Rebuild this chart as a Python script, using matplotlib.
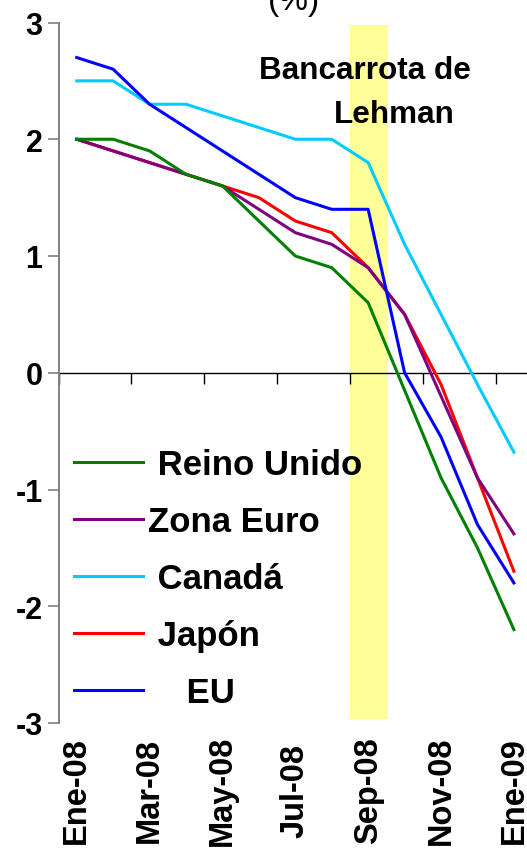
import matplotlib
matplotlib.use("Agg")
import matplotlib.pyplot as plt
from matplotlib.transforms import blended_transform_factory

# ---- data ----
months = ["Ene-08", "Feb-08", "Mar-08", "Abr-08", "May-08", "Jun-08", "Jul-08",
          "Ago-08", "Sep-08", "Oct-08", "Nov-08", "Dic-08", "Ene-09"]
tick_labels = ["Ene-08", "Mar-08", "May-08", "Jul-08", "Sep-08", "Nov-08", "Ene-09"]
reino_unido = [2.0, 2.0, 1.9, 1.7, 1.6, 1.3, 1.0, 0.9, 0.6, -0.15, -0.9, -1.5, -2.2]
zona_euro = [2.0, 1.9, 1.8, 1.7, 1.6, 1.4, 1.2, 1.1, 0.9, 0.5, -0.2, -0.9, -1.38]
canada = [2.5, 2.5, 2.3, 2.3, 2.2, 2.1, 2.0, 2.0, 1.8, 1.1, 0.5, -0.1, -0.68]
japon = [2.0, 1.9, 1.8, 1.7, 1.6, 1.5, 1.3, 1.2, 0.9, 0.5, -0.1, -0.9, -1.7]
eu = [2.7, 2.6, 2.3, 2.1, 1.9, 1.7, 1.5, 1.4, 1.4, 0.0, -0.55, -1.3, -1.8]
lehman_span = (7.5, 8.55)
yticks = [-3, -2, -1, 0, 1, 2, 3]

plt.rcParams['font.family'] = ['Liberation Sans', 'DejaVu Sans']

W, H = 527, 853
fig = plt.figure(figsize=(W / 100, H / 100), dpi=100)
ax = fig.add_axes([58.5 / W, (H - 724) / H, 1 - 58.5 / W, (724 - 23.5) / H])

x = list(range(len(months)))
ax.axvspan(lehman_span[0], lehman_span[1], ymin=0.006, ymax=0.996,
           color='#FFFF99', lw=0, zorder=1)

lw = 2.2
l_jp, = ax.plot(x, japon, color='#FF0000', lw=lw, zorder=3, label=' Japón')
l_ca, = ax.plot(x, canada, color='#00CCFF', lw=lw, zorder=3, label=' Canadá')
l_ze, = ax.plot(x, zona_euro, color='#800080', lw=lw, zorder=4, label='Zona Euro')
l_ru, = ax.plot(x, reino_unido, color='#008000', lw=lw, zorder=5, label=' Reino Unido')
l_eu, = ax.plot(x, eu, color='#0000FF', lw=lw, zorder=6, label='    EU')

ax.set_xlim(-0.5, 12.36)
ax.set_ylim(-3, 3)

for s in ['top', 'right']:
    ax.spines[s].set_visible(False)
ax.spines['left'].set_color('#808080')
ax.spines['left'].set_linewidth(1.4)
ax.spines['bottom'].set_position(('data', 0))
ax.spines['bottom'].set_color('black')
ax.spines['bottom'].set_linewidth(1.0)
ax.spines['bottom'].set_zorder(2)

ax.set_yticks(yticks)
ax.set_yticklabels([str(v) for v in yticks], fontsize=22, fontweight='bold')
ax.tick_params(axis='y', direction='out', length=8, width=1.2, color='#808080', pad=3.5)

ax.set_xticks([v - 0.5 for v in range(0, 13, 2)])
ax.tick_params(axis='x', direction='out', length=8, width=1.0, color='black',
               labelbottom=False)

trans = blended_transform_factory(ax.transData, ax.transAxes)
for i, lab in enumerate(tick_labels):
    ax.text(2 * i, -0.0956, lab, transform=trans, rotation=90, ha='center',
            va='center', fontsize=23.5, fontweight='bold', clip_on=False)

ax.text(7.92, 2.525, 'Bancarrota de', ha='center', va='baseline',
        fontsize=22.7, fontweight='bold', zorder=7)
ax.text(8.71, 2.151, 'Lehman', ha='center', va='baseline',
        fontsize=22.7, fontweight='bold', zorder=7)

fig.text(293.7 / W, 1 - 10 / H, '(%)', ha='center', va='baseline', fontsize=24)

leg = ax.legend(handles=[l_ru, l_ze, l_ca, l_jp, l_eu], loc='upper left',
                bbox_to_anchor=(73.9 / W, 1 - 449 / H), bbox_transform=fig.transFigure,
                frameon=False, borderpad=0, borderaxespad=0, handlelength=1.98,
                handletextpad=0.15, labelspacing=0.69,
                prop={'family': 'Liberation Sans', 'weight': 'bold', 'size': 25})

fig.savefig('out.png', dpi=100)
